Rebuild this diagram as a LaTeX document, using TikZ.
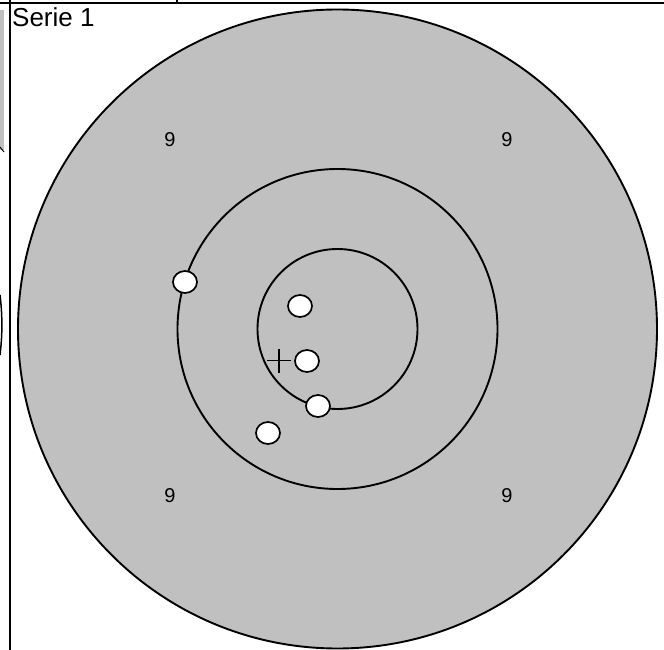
\documentclass[tikz,border=0pt]{standalone}
\usepackage{fontspec}
\setmainfont{Liberation Sans}
\usepackage{tikz}
\usetikzlibrary{positioning, calc, shapes.geometric}
\definecolor{targetgray}{RGB}{192, 192, 192}
\tikzset{
    ring/.style={draw=black, line width=1.9pt},
    shot/.style={ellipse, draw=black, fill=white, line width=1.7pt,
        minimum width=24pt, minimum height=22pt, inner sep=0pt},
    score/.style={font=\fontsize{20}{23}\selectfont, inner sep=0pt},
    frame/.style={draw=black, line width=1.8pt},
}
\begin{document}
\begin{tikzpicture}[x=1pt, y=-1pt]
        \useasboundingbox (0,0) rectangle (664,650);
        % bits of the neighbouring panel
        \fill[targetgray] (0,10) rectangle (4,150);
        \draw[line width=1pt] (0,147) -- (4,152);
        \draw[line width=1.5pt] (0,295) .. controls (2.5,315) and (2.5,335) .. (0,355);
        % panel frame
        \draw[frame] (0,3) -- (664,3);
        \draw[frame] (177,0) -- (177,3);
        \draw[frame] (10,0) -- (10,650);
        \node[anchor=north west, inner sep=0pt, font=\fontsize{26}{30}\selectfont] (title) at (12,7) {Serie 1};
        % target rings
        \coordinate (centre) at (337.5,329);
        \fill[targetgray, ring] (centre) circle (319.5);
        \draw[ring] (centre) circle (160);
        \draw[ring] (centre) circle (80);
        \foreach \x/\y [count=\i] in {170/140, 507/140, 170/496, 507/496}
            \node[score] (nine\i) at (\x,\y) {9};
        % mean point of impact
        \coordinate (mpi) at (279,360.5);
        \draw[line width=1.3pt] ($(mpi)+(-12,0)$) -- ($(mpi)+(12,0)$)
                                ($(mpi)+(0,-12)$) -- ($(mpi)+(0,12)$);
        % shots
        \foreach \x/\y [count=\i] in {185/282, 300/306, 307/361, 318/406, 268/433}
            \node[shot] (shot\i) at (\x,\y) {};
    \end{tikzpicture}
\end{document}
